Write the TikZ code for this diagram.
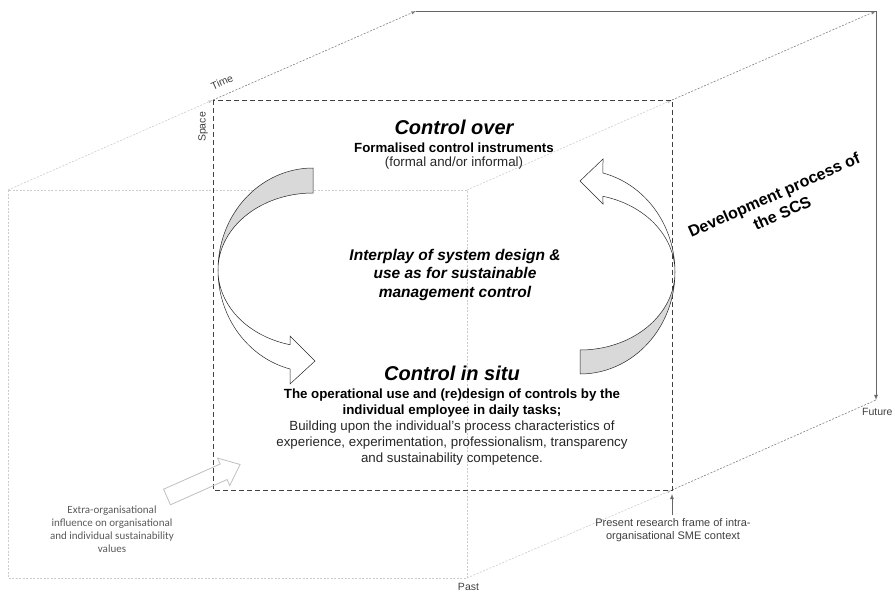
\documentclass[tikz,border=0pt]{standalone}
\usepackage{fontspec}
\setmainfont{Liberation Sans}
\newfontfamily\carlito{Carlito}
\begin{document}
\begin{tikzpicture}[x=1pt, y=-1pt, >=latex]
	\tikzset{clair/.style={gray!40, line width=0.6pt, dash pattern=on 2pt off 1.5pt},
	fonce/.style={gray, line width=0.6pt, dash pattern=on 2pt off 1.5pt},
	cadre/.style={black!75, line width=0.9pt, dash pattern=on 5pt off 3pt},
	trait/.style={gray!80!black, line width=0.8pt},
	ruban/.style={black!85, line width=0.5pt},
	petit/.style={text=black!75, font=\fontsize{10.5}{13}\selectfont, inner sep=0pt},
	titre/.style={font=\fontsize{20}{24}\selectfont\bfseries\itshape, inner sep=0pt, anchor=base},
	gras/.style={font=\fontsize{13.3}{15.8}\selectfont\bfseries, align=center, inner sep=0pt, anchor=base},
	normal/.style={text=black!85, font=\fontsize{13.3}{15.8}\selectfont, align=center, inner sep=0pt, anchor=base},
	milieu/.style={font=\fontsize{15.5}{18.5}\selectfont\bfseries\itshape, align=center, inner sep=0pt, anchor=base}};

	\useasboundingbox (0,0) rectangle (895,592);

	\foreach \nom/\x/\y in {aHG/8/190, aHD/467/190, aBD/467/578, fHG/213/100, fHD/672/100, fBD/672/490, lHG/416/11, lHD/876/11, lBD/876/400}
		\coordinate (\nom) at (\x,\y);

	\draw[clair] (aHG) rectangle (aBD);
	\foreach \a/\b/\c/\pointe in {aHG/fHG/lHG/->, aHD/fHD/lHD/->, aBD/fBD/lBD/-}{
		\draw[clair, ->] (\a) -- (\b);
		\draw[fonce, \pointe] (\b) -- (\c);
	}
	\draw[trait] (lHG) -- (lHD);
	\draw[trait, ->] (lHD) -- (lBD);
	\draw[cadre] (fHG) rectangle (fBD);

	\filldraw[ruban, fill=gray!30] plot[domain=270:180, samples=40] ({313+95*cos(\x)},{270+102*sin(\x)})
		-- plot[domain=180:270, samples=40] ({313+95*cos(\x)},{270+77*sin(\x)}) -- cycle;
	\filldraw[ruban, fill=white] plot[domain=180:104, samples=40] ({313+95*cos(\x)},{270+102*sin(\x)})
		-- (290,384) -- (315,361) -- (290,336)
		-- plot[domain=104:180, samples=40] ({313+95*cos(\x)},{270+77*sin(\x)}) -- cycle;
	\filldraw[ruban, fill=gray!30] plot[domain=90:0, samples=40] ({580+95*cos(\x)},{272+102*sin(\x)})
		-- plot[domain=0:90, samples=40] ({580+95*cos(\x)},{272+78*sin(\x)}) -- cycle;
	\filldraw[ruban, fill=white] plot[domain=0:-76, samples=40] ({580+95*cos(\x)},{272+102*sin(\x)})
		-- (603,159) -- (580,181) -- (603,204)
		-- plot[domain=-76:0, samples=40] ({580+95*cos(\x)},{272+78*sin(\x)}) -- cycle;

	\begin{scope}[shift={(167,497)}, rotate=24]
		\draw[gray!50, line width=0.8pt] (0,-8.5) -- (62,-8.5) -- (62,-15) -- (80,0) -- (62,15) -- (62,8.5) -- (0,8.5) -- cycle;
	\end{scope}

	\node[titre] (dessus) at (454,134) {Control over};
	\node[gras] (formel) at (454,152.7) {Formalised control instruments};
	\node[normal] (informel) at (454,166.5) {(formal and/or informal)};
	\node[milieu] (interaction) at (455,297) {Interplay of system design \&\\use as for sustainable\\management control};
	\node[titre] (situ) at (452,380.7) {Control in situ};
	\node[gras] (usage) at (452,414.5) {The operational use and (re)design of controls by the\\individual employee in daily tasks;};
	\node[normal] (socle) at (452,462.5) {Building upon the individual’s process characteristics of\\experience, experimentation, professionalism, transparency\\and sustainability competence.};

	\node[petit, rotate=24] (temps) at (222,82) {Time};
	\node[petit, rotate=90] (espace) at (203,127) {Space};
	\node[petit, anchor=base west] (futur) at (862,415) {Future};
	\node[petit, anchor=base] (passe) at (468.5,590) {Past};
	\node[petit, font=\fontsize{11}{12.5}\selectfont, align=center, anchor=base] (recherche) at (673,539) {Present research frame of intra-\\organisational SME context};
	\draw[trait, ->] ([yshift=3pt]recherche.north -| fBD) -- ([yshift=-4pt]fBD);
	\node[text=black!65, font=\carlito\fontsize{11}{13}\selectfont, align=center, inner sep=0pt, anchor=base] (influence) at (112,552) {Extra-organisational\\influence on organisational\\and individual sustainability\\values};
	\node[font=\fontsize{16}{20}\selectfont\bfseries, align=center, rotate=24] (scs) at (778,204) {Development process of\\the SCS};
\end{tikzpicture}
\end{document}
